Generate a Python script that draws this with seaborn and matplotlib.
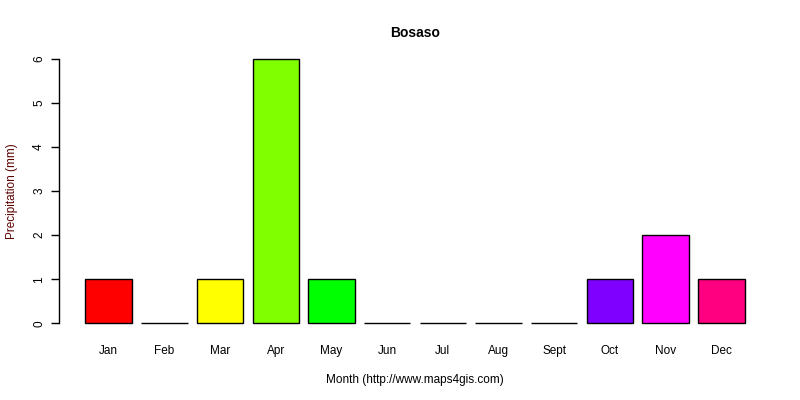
import numpy as np
import pandas as pd
import seaborn as sns
import matplotlib
matplotlib.use("Agg")
import matplotlib.pyplot as plt

months = ["Jan", "Feb", "Mar", "Apr", "May", "Jun",
          "Jul", "Aug", "Sept", "Oct", "Nov", "Dec"]
precip = [1, 0, 1, 6, 1, 0, 0, 0, 0, 1, 2, 1]
colors = ["#FF0000", "#FF8000", "#FFFF00", "#80FF00", "#00FF00", "#00FF80",
          "#00FFFF", "#0080FF", "#0000FF", "#8000FF", "#FF00FF", "#FF0080"]

df = pd.DataFrame({"month": months, "precip": precip})

sns.set_style("white")
plt.rcParams["font.family"] = ["Liberation Sans", "DejaVu Sans"]
plt.rcParams["text.color"] = "black"
plt.rcParams["axes.labelcolor"] = "black"
plt.rcParams["xtick.color"] = "black"
plt.rcParams["ytick.color"] = "black"

fig = plt.figure(figsize=(8, 4), dpi=100)
ax = fig.add_axes([0.07375, 0.165, 0.89, 0.715])

sns.barplot(data=df, x="month", y="precip", hue="month", palette=colors,
            order=months, hue_order=months, legend=False,
            width=1 / 1.2, edgecolor="black", linewidth=1, saturation=1, ax=ax)

ax.set_xlim(-0.89, 11.89)
ax.set_ylim(-0.24, 6.24)
ax.set_yticks(range(0, 7))
ax.set_yticklabels([str(i) for i in range(0, 7)], rotation=90, va="center", fontsize=8.5)

for s in ["top", "right", "bottom"]:
    ax.spines[s].set_visible(False)
ax.spines["left"].set_bounds(0, 6)
ax.spines["left"].set_color("black")
ax.spines["left"].set_linewidth(1)
ax.tick_params(axis="y", length=6, width=1, color="black", pad=4, left=True)
ax.tick_params(axis="x", length=0, pad=8, labelsize=8.5)

ax.set_title("Bosaso", fontsize=10, fontweight="bold", pad=8)
ax.set_xlabel("Month (http://www.maps4gis.com)", fontsize=8.5, labelpad=12)
ax.set_ylabel("Precipitation (mm)", fontsize=8.5, color="#5a0000", labelpad=11)

fig.savefig("out.png", dpi=100, facecolor="white")
